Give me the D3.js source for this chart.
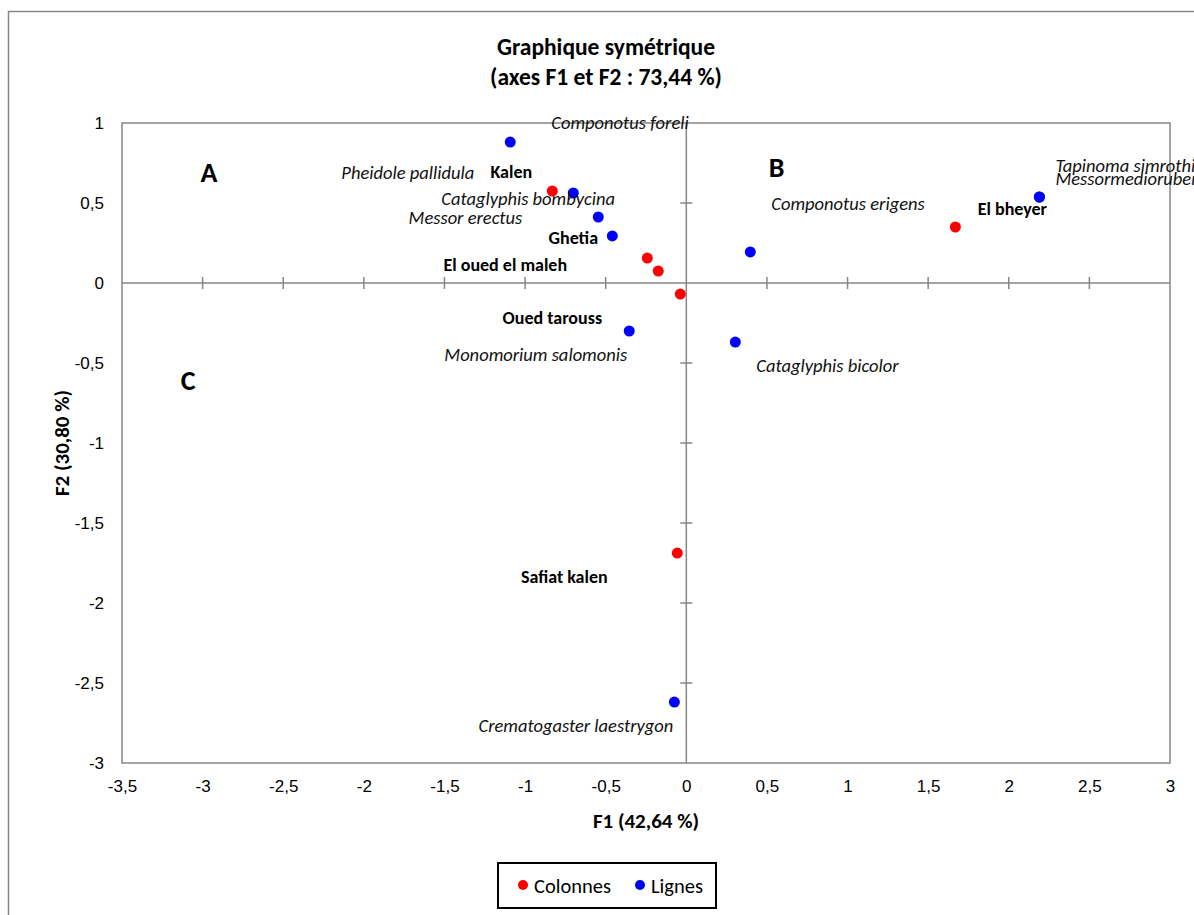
<!DOCTYPE html>
<html><head><meta charset="utf-8">
<script src="https://cdn.jsdelivr.net/npm/d3@7"></script>
<style>
body{margin:0;background:#fff;}
svg{display:block;font-family:Carlito,Calibri,Lato,"Liberation Sans",sans-serif;}
</style></head>
<body>
<svg id="c" width="1194" height="915"></svg>
<script>
// ---- data ----
const colNames = ["Kalen","Ghetia","El oued el maleh","Oued tarouss","El bheyer","Safiat kalen"];
const colF1 = [-0.831,-0.242,-0.174,-0.037,1.669,-0.056];
const colF2 = [0.575,0.156,0.075,-0.069,0.350,-1.688];
const rowNames = ["Componotus foreli","Cataglyphis bombycina","Messor erectus","Pheidole pallidula","Componotus erigens","Tapinoma simrothi","Messormedioruber","Monomorium salomonis","Cataglyphis bicolor","Crematogaster laestrygon"];
const rowF1 = [-1.092,-0.701,-0.546,-0.459,0.397,2.190,2.190,-0.354,0.304,-0.074];
const rowF2 = [0.881,0.5625,0.4125,0.294,0.194,0.5375,0.5375,-0.300,-0.369,-2.619];
const xTicks = [-3.5,-3,-2.5,-2,-1.5,-1,-0.5,0,0.5,1,1.5,2,2.5,3];
const yTicks = [-3,-2.5,-2,-1.5,-1,-0.5,0,0.5,1];
const title1 = "Graphique symétrique";
const title2 = "(axes F1 et F2 : 73,44 %)";
const xTitle = "F1 (42,64 %)";
const yTitle = "F2 (30,80 %)";
const legendLabels = ["Colonnes","Lignes"];
const quadrants = [["A",-2.96,0.69],["B",0.56,0.72],["C",-3.09,-0.61]];

// label placement (offsets in px relative to the point, anchor)
const colLabelPos = [[-41,-19,"middle"],[-74,-20,"middle"],[-153,-6,"middle"],[-128,24,"middle"],[57,-18,"middle"],[-113,24,"middle"]];
const rowLabelPos = [[41,-20,"start"],[-132,5,"start"],[-76,0,"end"],[-138,-63,"end"],[21,-48,"start"],[16,-32,"start"],[16,-19,"start"],[-2,23,"end"],[21,23,"start"],[-1,23,"end"]];

const red="#ff0000", blue="#0000ff", grey="#868686";
const svg = d3.select("#c");
const loc = d3.formatLocale({decimal:",",thousands:" ",grouping:[3],currency:["","€"],minus:"-"});
const fmt = loc.format("~g");

const x = d3.scaleLinear().domain([-3.5,3]).range([122,1170]);
const y = d3.scaleLinear().domain([-3,1]).range([763,123]);

// outer frame
svg.append("rect").attr("x",8.5).attr("y",11.5).attr("width",1200).attr("height",920)
  .attr("fill","none").attr("stroke",grey).attr("stroke-width",1.5);

// titles
svg.append("text").attr("x",606).attr("y",47).attr("text-anchor","middle").attr("dominant-baseline","central")
  .attr("font-weight","bold").attr("font-size",23.5).text(title1);
svg.append("text").attr("x",606).attr("y",77).attr("text-anchor","middle").attr("dominant-baseline","central")
  .attr("font-weight","bold").attr("font-size",23.5).text(title2);

// plot box
svg.append("rect").attr("x",x(-3.5)).attr("y",y(1)).attr("width",x(3)-x(-3.5)).attr("height",y(-3)-y(1))
  .attr("fill","none").attr("stroke",grey).attr("stroke-width",1.5);
// zero lines
svg.append("line").attr("x1",x(-3.5)).attr("x2",x(3)).attr("y1",y(0)).attr("y2",y(0)).attr("stroke",grey).attr("stroke-width",1.5);
svg.append("line").attr("x1",x(0)).attr("x2",x(0)).attr("y1",y(1)).attr("y2",y(-3)).attr("stroke",grey).attr("stroke-width",1.5);
// tick marks on zero lines
svg.selectAll(".xt").data(xTicks.filter(d=>d!==0 && d!==-3.5 && d!==3)).enter().append("line")
  .attr("x1",d=>x(d)).attr("x2",d=>x(d)).attr("y1",y(0)-6).attr("y2",y(0)+6).attr("stroke",grey).attr("stroke-width",1.5);
svg.selectAll(".yt").data(yTicks.filter(d=>d!==0 && d!==1 && d!==-3)).enter().append("line")
  .attr("y1",d=>y(d)).attr("y2",d=>y(d)).attr("x1",x(0)-6).attr("x2",x(0)+6).attr("stroke",grey).attr("stroke-width",1.5);

// tick labels through axes
const gx = svg.append("g").attr("transform",`translate(0,${y(-3)})`)
  .call(d3.axisBottom(x).tickValues(xTicks).tickFormat(fmt).tickSize(0).tickPadding(17));
gx.select(".domain").remove();
gx.selectAll("text").attr("font-size",17).attr("font-family",null).attr("fill","#000");
const gy = svg.append("g").attr("transform",`translate(${x(-3.5)},0)`)
  .call(d3.axisLeft(y).tickValues(yTicks).tickFormat(fmt).tickSize(0).tickPadding(18));
gy.select(".domain").remove();
gy.selectAll("text").attr("font-size",17).attr("font-family",null).attr("fill","#000");

// axis titles
svg.append("text").attr("x",646).attr("y",821).attr("text-anchor","middle").attr("dominant-baseline","central").attr("font-weight","bold").attr("font-size",21).text(xTitle);
svg.append("text").attr("transform","translate(62,443) rotate(-90)").attr("text-anchor","middle").attr("dominant-baseline","central").attr("font-weight","bold").attr("font-size",21).text(yTitle);

// quadrant letters
svg.selectAll(".q").data(quadrants).enter().append("text")
  .attr("x",d=>x(d[1])).attr("y",d=>y(d[2])).attr("text-anchor","middle").attr("dominant-baseline","central")
  .attr("font-weight","bold").attr("font-size",28).text(d=>d[0]);

// points
const rows = rowNames.map((n,i)=>({n,f1:rowF1[i],f2:rowF2[i],p:rowLabelPos[i]}));
const cols = colNames.map((n,i)=>({n,f1:colF1[i],f2:colF2[i],p:colLabelPos[i]}));

svg.selectAll(".rp").data(rows).enter().append("circle")
  .attr("cx",d=>x(d.f1)).attr("cy",d=>y(d.f2)).attr("r",5.5).attr("fill",blue);
svg.selectAll(".cp").data(cols).enter().append("circle")
  .attr("cx",d=>x(d.f1)).attr("cy",d=>y(d.f2)).attr("r",5.5).attr("fill",red);

svg.selectAll(".rl").data(rows).enter().append("text")
  .attr("x",d=>x(d.f1)+d.p[0]).attr("y",d=>y(d.f2)+d.p[1]).attr("text-anchor",d=>d.p[2])
  .attr("dominant-baseline","central").attr("font-style","italic").attr("font-size",18.5).attr("fill","#111").text(d=>d.n);
svg.selectAll(".cl").data(cols).enter().append("text")
  .attr("x",d=>x(d.f1)+d.p[0]).attr("y",d=>y(d.f2)+d.p[1]).attr("text-anchor",d=>d.p[2])
  .attr("dominant-baseline","central").attr("font-weight","bold").attr("font-size",18).attr("fill","#000").text(d=>d.n);

// legend
svg.append("rect").attr("x",498).attr("y",863).attr("width",218).attr("height",45).attr("fill","#fff").attr("stroke","#000").attr("stroke-width",2);
const lg = [[523,red,legendLabels[0]],[640,blue,legendLabels[1]]];
lg.forEach(d=>{
  svg.append("circle").attr("cx",d[0]).attr("cy",885).attr("r",5).attr("fill",d[1]);
  svg.append("text").attr("x",d[0]+11).attr("y",886).attr("dominant-baseline","central").attr("font-size",20.5).text(d[2]);
});
</script>
</body></html>
